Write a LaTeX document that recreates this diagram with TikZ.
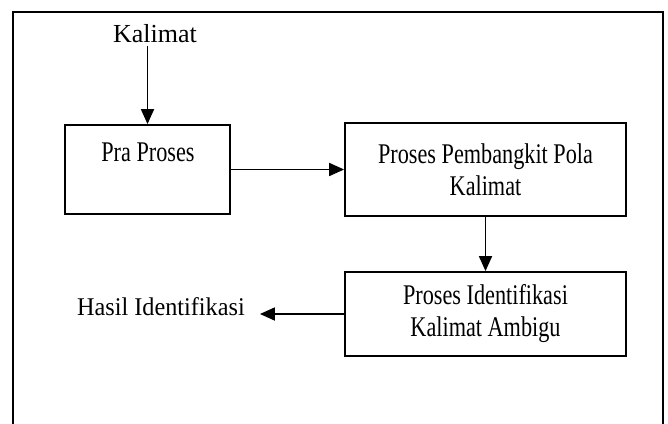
\documentclass[tikz,border=0pt]{standalone}
\usepackage{fontspec}
\setmainfont{Liberation Serif}
\newfontfamily\boxfont[FakeStretch=0.78]{Liberation Serif}
\newfontfamily\hasilfont[FakeStretch=0.95]{Liberation Serif}
\usetikzlibrary{arrows.meta}
\begin{document}
\begin{tikzpicture}[x=1pt,y=1pt,
  outtext/.style={font=\fontsize{26}{30}\selectfont, inner sep=0pt},
  intext/.style={font=\boxfont\fontsize{28.5}{32}\selectfont},
  box/.style={draw, line width=1.8pt, align=center, inner sep=0pt, intext},
  arr/.style={line width=1.8pt, -{Triangle[length=15pt,width=13pt]}},
  frame/.style={line width=1.6pt}]
\useasboundingbox (0,0) rectangle (668,423);
\draw[frame] (13,-2) -- (13,411) -- (663,411) -- (663,-2);
\node[outtext, anchor=base] (kal) at (155,380) {Kalimat};
\node[box, minimum width=165pt, minimum height=89pt] (pra) at (147.5,253.5) {};
\node[intext, anchor=base, inner sep=0pt] (pratext) at (148,261) {Pra Proses};
\node[box, minimum width=281pt, minimum height=93pt] (box2) at (485.5,253.5)
  {Proses Pembangkit Pola\\Kalimat};
\node[box, minimum width=281pt, minimum height=84pt] (box3) at (485.5,109)
  {Proses Identifikasi\\Kalimat Ambigu};
\node[outtext, font=\hasilfont\fontsize{25.5}{30}\selectfont, anchor=base west] (hasil) at (77,108) {Hasil Identifikasi};
\draw[arr] ([yshift=-3pt]pra.north |- kal.south) -- (pra.north);
\draw[arr] (pra) -- (box2);
\draw[arr] (box2.south) -- (box3.north);
\draw[arr] (box3.west) -- ([xshift=15pt]hasil.east |- box3.west);
\end{tikzpicture}
\end{document}
